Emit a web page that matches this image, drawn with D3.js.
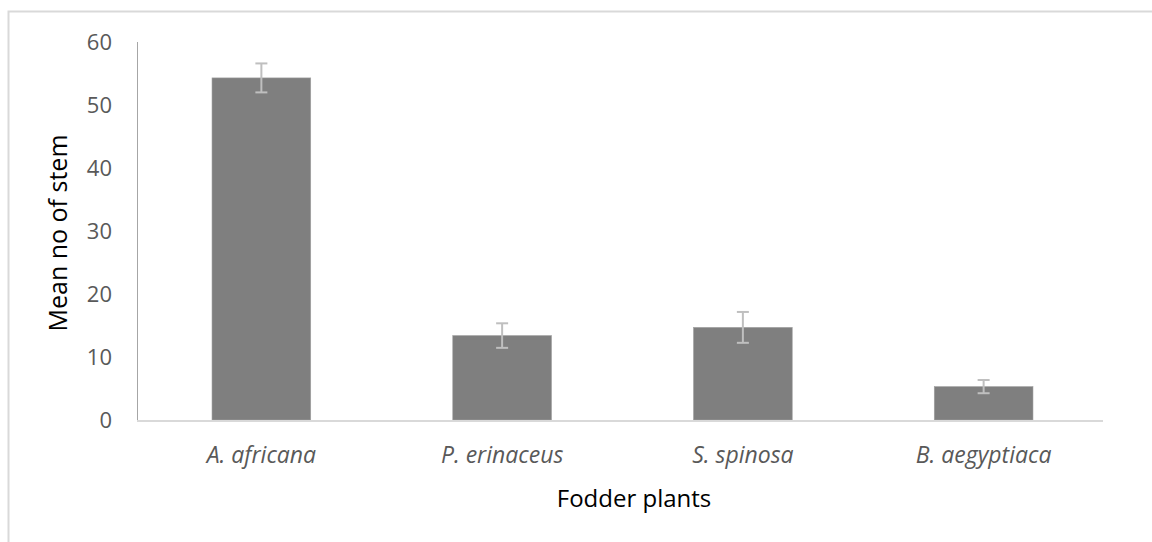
<!DOCTYPE html>
<html>
<head>
<meta charset="utf-8">
<script src="https://cdn.jsdelivr.net/npm/d3@7"></script>
<style>
  html, body { margin: 0; padding: 0; background: #fff; }
  svg { display: block; }
</style>
</head>
<body>
<svg id="chart" width="1152" height="542"></svg>
<script>
const plants = ['A. africana', 'P. erinaceus', 'S. spinosa', 'B. aegyptiaca']
const means = [54.3, 13.4, 14.7, 5.3]
const errors = [2.3, 1.95, 2.45, 1.05]
const yTicks = [0, 10, 20, 30, 40, 50, 60]

const svg = d3.select('#chart')

// outer chart frame (only top and left edges are visible in the crop)
svg.append('path')
  .attr('d', 'M8.5,600 L8.5,11.5 L1200,11.5')
  .attr('fill', 'none')
  .attr('stroke', '#d9d9d9')
  .attr('stroke-width', 2)

const x = d3.scaleBand()
  .domain(plants)
  .range([141, 1104])
  .paddingInner(0.59)
  .paddingOuter(0.295)

const y = d3.scaleLinear()
  .domain([0, 60])
  .range([420, 42])

// y axis line
svg.append('line')
  .attr('x1', 137.5).attr('x2', 137.5)
  .attr('y1', y(60)).attr('y2', y(0))
  .attr('stroke', '#a6a6a6')

// y tick labels
svg.append('g').selectAll('text')
  .data(yTicks)
  .join('text')
  .attr('x', 112)
  .attr('y', d => y(d))
  .attr('dy', '0.36em')
  .attr('text-anchor', 'end')
  .attr('fill', '#595959')
  .style('font', '22px "Open Sans", sans-serif')
  .text(d => d)

// bars
svg.append('g').selectAll('rect')
  .data(plants)
  .join('rect')
  .attr('x', d => x(d))
  .attr('y', (d, i) => y(means[i]))
  .attr('width', x.bandwidth())
  .attr('height', (d, i) => y(0) - y(means[i]))
  .attr('fill', '#7f7f7f')
  .attr('stroke', '#a0a0a0')
  .attr('stroke-width', 0.6)

// x axis line
svg.append('line')
  .attr('x1', 137).attr('x2', 1103)
  .attr('y1', y(0) + 1).attr('y2', y(0) + 1)
  .attr('stroke', '#d9d9d9')
  .attr('stroke-width', 2)

// error bars
const err = svg.append('g')
  .attr('stroke', '#bfbfbf')
  .attr('stroke-width', 2)
  .selectAll('g')
  .data(plants)
  .join('g')
  .attr('transform', d => `translate(${x(d) + x.bandwidth() / 2},0)`)

err.append('line')
  .attr('y1', (d, i) => y(means[i] + errors[i]))
  .attr('y2', (d, i) => y(means[i] - errors[i]))
err.append('line')
  .attr('x1', -6).attr('x2', 6)
  .attr('y1', (d, i) => y(means[i] + errors[i]))
  .attr('y2', (d, i) => y(means[i] + errors[i]))
err.append('line')
  .attr('x1', -6).attr('x2', 6)
  .attr('y1', (d, i) => y(means[i] - errors[i]))
  .attr('y2', (d, i) => y(means[i] - errors[i]))

// category labels
svg.append('g').selectAll('text')
  .data(plants)
  .join('text')
  .attr('x', d => x(d) + x.bandwidth() / 2)
  .attr('y', 455)
  .attr('dy', '0.36em')
  .attr('text-anchor', 'middle')
  .attr('fill', '#595959')
  .style('font', 'italic 23px "Open Sans", sans-serif')
  .text(d => d)

// axis titles
svg.append('text')
  .attr('x', 634)
  .attr('y', 498)
  .attr('dy', '0.36em')
  .attr('text-anchor', 'middle')
  .attr('fill', '#000')
  .style('font', '24px "Open Sans", sans-serif')
  .text('Fodder plants')

svg.append('text')
  .attr('transform', 'translate(58,233) rotate(-90)')
  .attr('dy', '0.36em')
  .attr('text-anchor', 'middle')
  .attr('fill', '#000')
  .style('font', '25px "Open Sans", sans-serif')
  .text('Mean no of stem')
</script>
</body>
</html>
